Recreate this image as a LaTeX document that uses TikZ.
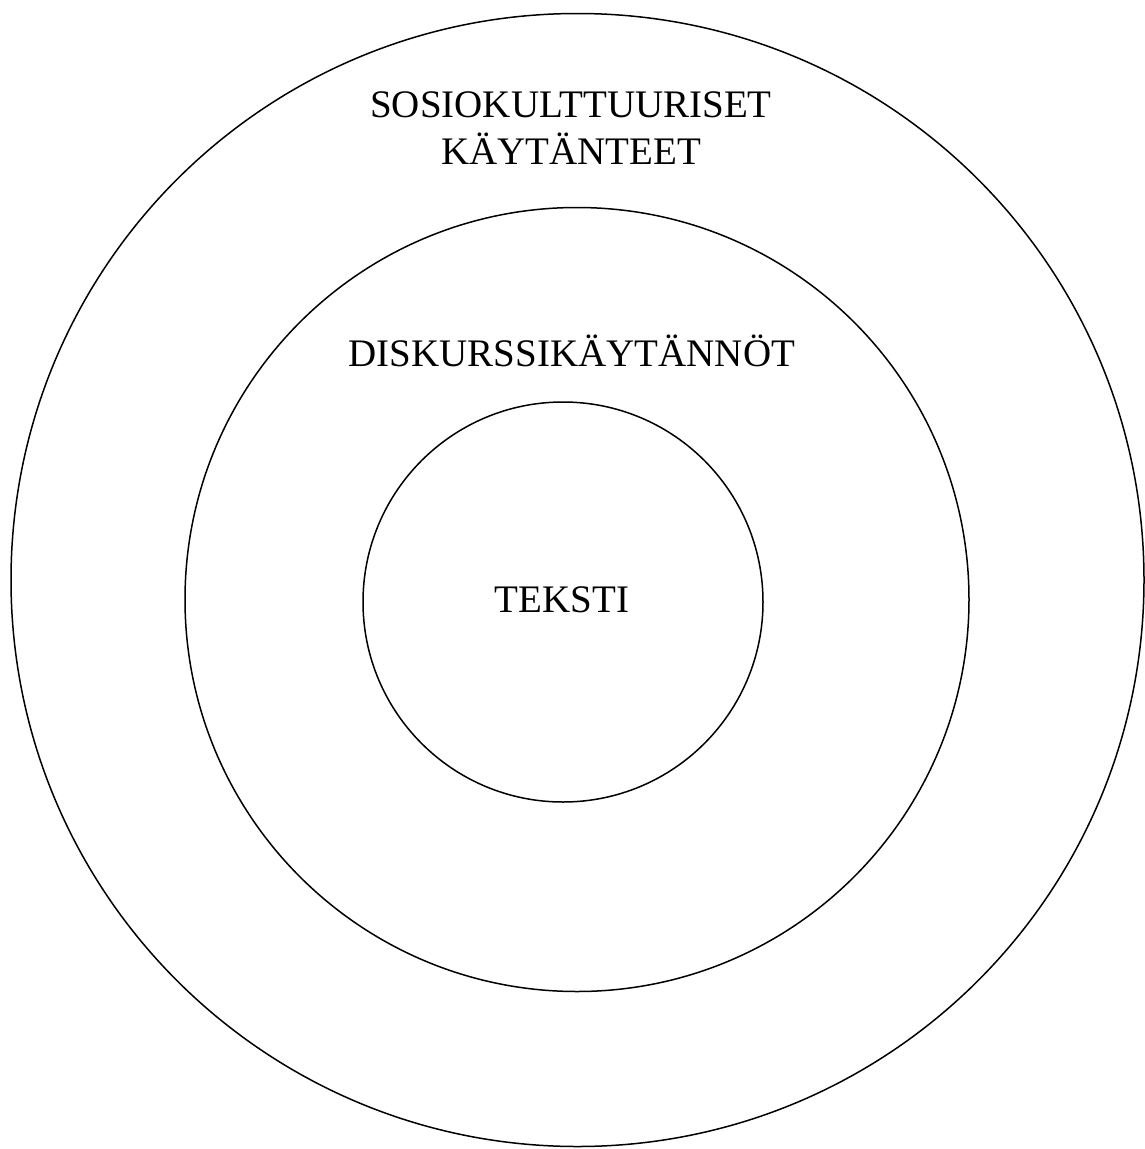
\documentclass[tikz,border=0pt]{standalone}
\usepackage{fontspec}
\setmainfont{Liberation Serif}
\usepackage{tikz}
\usetikzlibrary{positioning}

\begin{document}
\begin{tikzpicture}[x=1pt, y=-1pt, ring/.style={draw, circle, line width=1.5pt, inner sep=0pt},
    lbl/.style={font=\fontsize{39}{47}\selectfont, align=center}]
    \useasboundingbox (0,0) rectangle (1144,1149);
    \node[ring, minimum size=1133pt] (sos) at (577.5,580) {};
    \node[ring, minimum size=784pt] (disk) at (577,599.5) {};
    \node[ring, minimum size=400pt] (txt) at (563,602) {};
    \node[lbl] (sosl) at (571,128) {SOSIOKULTTUURISET\\KÄYTÄNTEET};
    \node[lbl] (diskl) at (572,351) {DISKURSSIKÄYTÄNNÖT};
    \node[lbl] (txtl) at (562,600) {TEKSTI};
  \end{tikzpicture}
\end{document}
